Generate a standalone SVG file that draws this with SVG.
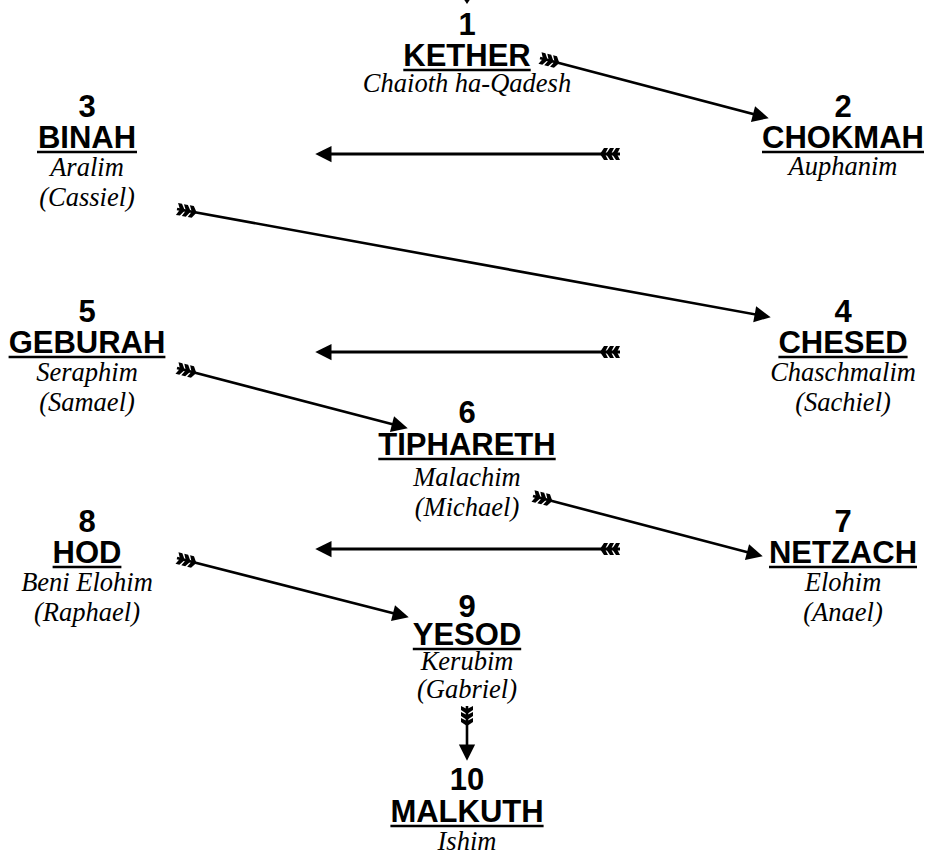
<svg xmlns="http://www.w3.org/2000/svg" width="929" height="862" viewBox="0 0 929 862">
<style>
.num{font-family:"Liberation Sans",Arial,sans-serif;font-weight:bold;font-size:31px;fill:#000;text-anchor:middle}
.nm{font-family:"Liberation Sans",Arial,sans-serif;font-weight:bold;font-size:31px;fill:#000;text-anchor:middle}
.it{font-family:"Liberation Serif","Times New Roman",serif;font-style:italic;font-size:26.5px;fill:#000;text-anchor:middle}
.ul{stroke:#000;stroke-width:2.5}
.ar{stroke:#000;stroke-width:2.6;fill:none;marker-start:url(#fl);marker-end:url(#hd)}
.arh{stroke:#000;stroke-width:3;fill:none;marker-start:url(#fl);marker-end:url(#hd)}
</style>
<defs>
<marker id="hd" markerUnits="userSpaceOnUse" markerWidth="20" markerHeight="20" viewBox="0 -8 16 16" refX="10" refY="0" orient="auto" overflow="visible">
<path d="M0,-6.5 L13,0 L0,6.5 z" fill="#000"/>
</marker>
<marker id="fl" markerUnits="userSpaceOnUse" markerWidth="24" markerHeight="20" viewBox="0 -8 24 16" refX="0" refY="0" orient="auto" overflow="visible">
<path d="M0,-6 L4,-6 L8,0 L4,6 L0,6 L3,0 z M6,-6 L10,-6 L14,0 L10,6 L6,6 L9,0 z M12,-6 L16,-6 L20,0 L16,6 L12,6 L15,0 z" fill="#000"/>
</marker>
</defs>

<g id="connectors">
<polygon points="459,-8 475,-8 467,4" fill="#000"/>
<line class="ar" x1="540" y1="58" x2="765.1" y2="117.2"/>
<line class="arh" x1="620" y1="154" x2="319" y2="154"/>
<line class="ar" x1="177" y1="209" x2="767" y2="316.5"/>
<line class="arh" x1="620" y1="352" x2="319" y2="352"/>
<line class="ar" x1="177" y1="368" x2="404.1" y2="427.2"/>
<line class="ar" x1="533" y1="496" x2="759.1" y2="555.2"/>
<line class="arh" x1="620" y1="549" x2="319" y2="549"/>
<line class="ar" x1="177" y1="558" x2="405.1" y2="616.3"/>
<line class="ar" x1="467" y1="706" x2="467" y2="757"/>
</g>

<g id="kether">
<text class="num" x="467" y="35">1</text>
<text class="nm" x="467" y="66">KETHER</text>
<line class="ul" x1="403.3" y1="70" x2="530.7" y2="70"/>
<text class="it" x="467" y="92">Chaioth ha-Qadesh</text>
</g>

<g id="chokmah">
<text class="num" x="843" y="117">2</text>
<text class="nm" x="843" y="148">CHOKMAH</text>
<line class="ul" x1="762" y1="152" x2="924" y2="152"/>
<text class="it" x="843" y="175">Auphanim</text>
</g>

<g id="binah">
<text class="num" x="87" y="117">3</text>
<text class="nm" x="87" y="148">BINAH</text>
<line class="ul" x1="37" y1="152" x2="137" y2="152"/>
<text class="it" x="87" y="176">Aralim</text>
<text class="it" x="87" y="206">(Cassiel)</text>
</g>

<g id="chesed">
<text class="num" x="843" y="322">4</text>
<text class="nm" x="843" y="353">CHESED</text>
<line class="ul" x1="778.4" y1="357" x2="907.6" y2="357"/>
<text class="it" x="843" y="381">Chaschmalim</text>
<text class="it" x="843" y="411">(Sachiel)</text>
</g>

<g id="geburah">
<text class="num" x="87" y="322">5</text>
<text class="nm" x="87" y="353">GEBURAH</text>
<line class="ul" x1="8.6" y1="357" x2="165.4" y2="357"/>
<text class="it" x="87" y="381">Seraphim</text>
<text class="it" x="87" y="411">(Samael)</text>
</g>

<g id="tiphareth">
<text class="num" x="467" y="423">6</text>
<text class="nm" x="467" y="455">TIPHARETH</text>
<line class="ul" x1="378.3" y1="459" x2="555.7" y2="459"/>
<text class="it" x="467" y="486">Malachim</text>
<text class="it" x="467" y="516">(Michael)</text>
</g>

<g id="netzach">
<text class="num" x="843" y="532">7</text>
<text class="nm" x="843" y="563">NETZACH</text>
<line class="ul" x1="769" y1="567" x2="917" y2="567"/>
<text class="it" x="843" y="591">Elohim</text>
<text class="it" x="843" y="621">(Anael)</text>
</g>

<g id="hod">
<text class="num" x="87" y="532">8</text>
<text class="nm" x="87" y="563">HOD</text>
<line class="ul" x1="52.6" y1="567" x2="121.4" y2="567"/>
<text class="it" x="87" y="591">Beni Elohim</text>
<text class="it" x="87" y="621">(Raphael)</text>
</g>

<g id="yesod">
<text class="num" x="467" y="617">9</text>
<text class="nm" x="467" y="645">YESOD</text>
<line class="ul" x1="412.8" y1="649" x2="521.2" y2="649"/>
<text class="it" x="467" y="670">Kerubim</text>
<text class="it" x="467" y="698">(Gabriel)</text>
</g>

<g id="malkuth">
<text class="num" x="467" y="790">10</text>
<text class="nm" x="467" y="822">MALKUTH</text>
<line class="ul" x1="390.4" y1="826" x2="543.6" y2="826"/>
<text class="it" x="467" y="850">Ishim</text>
</g>
</svg>
